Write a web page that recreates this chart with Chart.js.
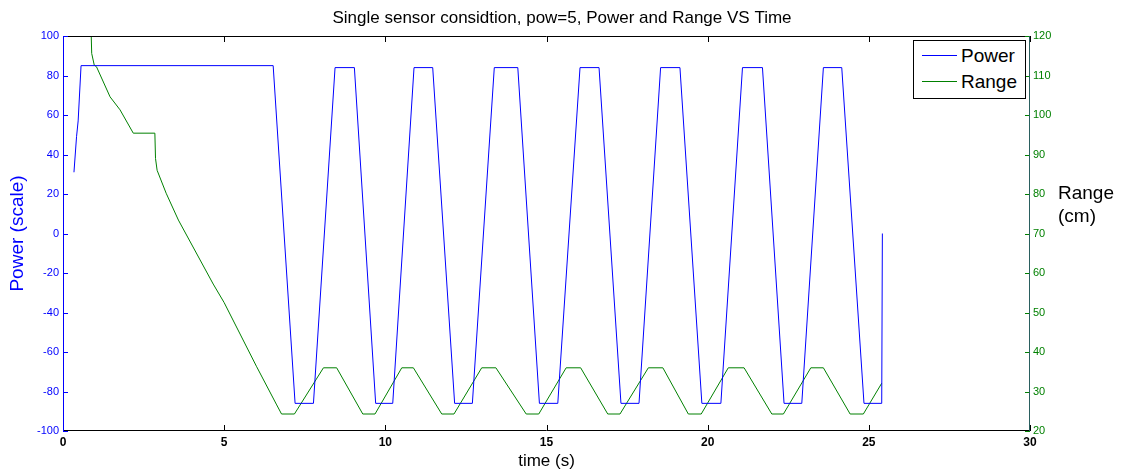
<!DOCTYPE html>
<html>
<head>
<meta charset="utf-8">
<script src="https://cdn.jsdelivr.net/npm/chart.js@4/dist/chart.umd.min.js"></script>
<style>
  body { margin: 0; background: #fff; }
  #wrap { position: relative; width: 1124px; height: 476px; font-family: 'Liberation Sans', Arial, sans-serif; }
  #legend { position: absolute; left: 913px; top: 40px; width: 113px; height: 59px; border: 1.5px solid #000; background: #fff; box-sizing: border-box; }
  .lg { position: absolute; left: 47px; height: 26px; font-size: 19px; line-height: 26px; color: #000; }
  .sw { position: absolute; left: 8px; width: 35px; height: 0; }
  #rtitle { position: absolute; left: 1058px; top: 181px; font-size: 19px; line-height: 23px; color: #000; }
</style>
</head>
<body>
<div id="wrap">
  <canvas id="powerChart"></canvas>
  <div id="legend">
    <div class="sw" style="top:14px;border-top:1px solid #0000ff"></div>
    <div class="lg" style="top:2px">Power</div>
    <div class="sw" style="top:40px;border-top:1px solid #008000"></div>
    <div class="lg" style="top:28px">Range</div>
  </div>
  <div id="rtitle">Range<br>(cm)</div>
</div>
<script>
// valores
const powerTime = [0.34, 0.42, 0.47, 0.56, 6.52, 7.2, 7.77, 8.44, 9.04, 9.70, 10.23, 10.89, 11.47, 12.15, 12.70, 13.38, 14.11, 14.78, 15.35, 16.04, 16.63, 17.31, 17.87, 18.54, 19.14, 19.82, 20.41, 21.08, 21.70, 22.37, 22.92, 23.59, 24.16, 24.85, 25.40, 25.42];
const powerValues = [31, 49, 57, 85, 85, -86, -86, 84, 84, -86, -86, 84, 84, -86, -86, 84, 84, -86, -86, 84, 84, -86, -86, 84, 84, -86, -86, 84, 84, -86, -86, 84, 84, -86, -86, 0];

const rangeTime = [0.86, 0.89, 0.97, 1.04, 1.46, 1.77, 2.18, 2.85, 2.87, 2.92, 3.2, 3.58, 4.66, 5.0, 6.0, 6.63, 6.78, 7.18, 8.08, 8.49, 9.30, 9.68, 10.51, 10.87, 11.75, 12.13, 12.99, 13.43, 14.37, 14.76, 15.61, 16.06, 16.90, 17.28, 18.16, 18.61, 19.40, 19.80, 20.64, 21.13, 21.99, 22.35, 23.20, 23.59, 24.42, 24.83, 25.40];
const rangeValues = [125, 115.6, 112.6, 112.2, 104.6, 101.3, 95.4, 95.4, 89, 86, 80.2, 73.4, 57.2, 52.5, 36.4, 26.6, 24.3, 24.3, 36, 36, 24.3, 24.3, 36, 36, 24.3, 24.3, 36, 36, 24.3, 24.3, 36, 36, 24.3, 24.3, 36, 36, 24.3, 24.3, 36, 36, 24.3, 24.3, 36, 36, 24.3, 24.3, 32.1];

const xTicks = [0, 5, 10, 15, 20, 25, 30];
const powerTicks = [-100, -80, -60, -40, -20, 0, 20, 40, 60, 80, 100];
const rangeTicks = [20, 30, 40, 50, 60, 70, 80, 90, 100, 110, 120];

const FONT = "'Liberation Sans', Arial, sans-serif";

function toPoints(xs, ys) {
    const pts = [];
    for (let i = 0; i < xs.length; i++) {
        pts.push({ x: xs[i], y: ys[i] });
    }
    return pts;
}

// marco y marcas hacia adentro, como en matlab
const frameTicks = {
    id: 'frameTicks',
    afterDatasetsDraw(chart) {
        const c = chart.ctx;
        const a = chart.chartArea;
        const sx = chart.scales.x, sl = chart.scales.yPower, sr = chart.scales.yRange;
        c.save();
        c.lineWidth = 1;
        c.strokeStyle = '#000';
        c.beginPath();
        c.moveTo(a.left, a.top + 0.5); c.lineTo(a.right, a.top + 0.5);
        c.moveTo(a.left, a.bottom - 0.5); c.lineTo(a.right, a.bottom - 0.5);
        xTicks.forEach(v => {
            const px = Math.round(sx.getPixelForValue(v)) + 0.5;
            c.moveTo(px, a.top); c.lineTo(px, a.top + 6);
            c.moveTo(px, a.bottom); c.lineTo(px, a.bottom - 6);
        });
        c.stroke();
        c.strokeStyle = '#0000ff';
        c.beginPath();
        c.moveTo(a.left + 0.5, a.top); c.lineTo(a.left + 0.5, a.bottom);
        powerTicks.forEach(v => {
            const py = Math.round(sl.getPixelForValue(v)) + 0.5;
            c.moveTo(a.left, py); c.lineTo(a.left + 5, py);
        });
        c.stroke();
        c.strokeStyle = '#008000';
        c.beginPath();
        rangeTicks.forEach(v => {
            const py = Math.round(sr.getPixelForValue(v)) + 0.5;
            c.moveTo(a.right, py); c.lineTo(a.right - 5, py);
        });
        c.stroke();
        c.strokeStyle = '#2a5f5f';
        c.beginPath();
        c.moveTo(a.right - 0.5, a.top); c.lineTo(a.right - 0.5, a.bottom);
        c.stroke();
        c.restore();
    }
};

const ctx = document.getElementById('powerChart').getContext('2d');
new Chart(ctx, {
    type: 'line',
    data: {
        datasets: [
            {
                label: 'Power',
                data: toPoints(powerTime, powerValues),
                borderColor: '#0000ff',
                borderWidth: 1,
                pointRadius: 0,
                tension: 0,
                yAxisID: 'yPower'
            },
            {
                label: 'Range',
                data: toPoints(rangeTime, rangeValues),
                borderColor: '#008000',
                borderWidth: 1,
                pointRadius: 0,
                tension: 0,
                yAxisID: 'yRange'
            }
        ]
    },
    options: {
        responsive: true,
        maintainAspectRatio: false,
        animation: false,
        layout: { padding: 0 },
        scales: {
            x: {
                type: 'linear',
                min: 0, max: 30,
                afterBuildTicks: s => { s.ticks = xTicks.map(v => ({ value: v })); },
                afterFit: s => { s.height = 45; },
                grid: { display: false, drawTicks: false },
                border: { display: false },
                ticks: { color: '#000', padding: 4, font: { family: FONT, size: 12, weight: 'bold' }, maxRotation: 0 },
                title: { display: true, text: 'time (s)', color: '#000', font: { family: FONT, size: 17 }, padding: { top: 0, bottom: 4 } }
            },
            yPower: {
                position: 'left',
                min: -100, max: 100,
                afterBuildTicks: s => { s.ticks = powerTicks.map(v => ({ value: v })); },
                afterFit: s => { s.width = 63; },
                grid: { display: false, drawTicks: false },
                border: { display: false },
                ticks: { color: '#0000ff', padding: 4, font: { family: FONT, size: 11 } },
                title: { display: true, text: 'Power (scale)', color: '#0000ff', font: { family: FONT, size: 19 }, padding: { top: 6, bottom: 0 } }
            },
            yRange: {
                position: 'right',
                min: 20, max: 120,
                afterBuildTicks: s => { s.ticks = rangeTicks.map(v => ({ value: v })); },
                afterFit: s => { s.width = 94; },
                grid: { display: false, drawTicks: false },
                border: { display: false },
                ticks: { color: '#008000', padding: 3, font: { family: FONT, size: 11 } }
            }
        },
        plugins: {
            legend: { display: false },
            tooltip: { enabled: false },
            title: {
                display: true,
                text: 'Single sensor considtion, pow=5, Power and Range VS Time',
                color: '#000',
                font: { family: FONT, size: 17, weight: 'normal' },
                padding: { top: 8, bottom: 7.6 }
            }
        }
    },
    plugins: [frameTicks]
});
</script>
</body>
</html>
